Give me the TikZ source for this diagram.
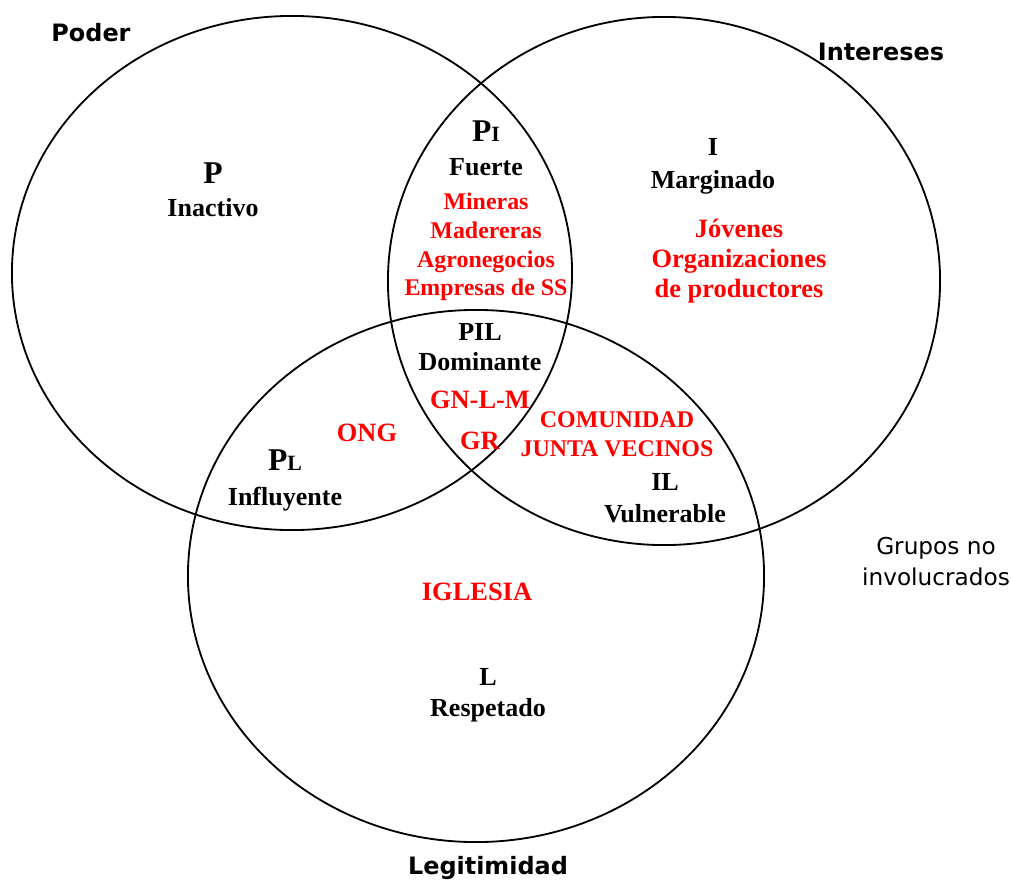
\documentclass[tikz,border=0pt]{standalone}
\usepackage{fontspec}
\setmainfont{Liberation Serif}
\newfontfamily\titlefont{DejaVu Sans}
\usetikzlibrary{shapes.geometric}

\begin{document}
\begin{tikzpicture}[
    x=0.025cm, y=-0.025cm,
    venn/.style={ellipse, draw, line width=1.3pt, inner sep=0pt},
    zone/.style={font=\fontsize{18.5}{22}\selectfont\bfseries, align=center, inner sep=0pt},
    big/.style={font=\fontsize{22.5}{24}\selectfont\bfseries, inner sep=0pt},
    actor/.style={font=\fontsize{17}{20.5}\selectfont\bfseries, text=red, align=center, inner sep=0pt},
    bigactor/.style={actor, font=\fontsize{18.8}{21.5}\selectfont\bfseries},
    title/.style={font=\titlefont\bfseries\fontsize{17}{20}\selectfont, inner sep=0pt},
    note/.style={font=\titlefont\fontsize{16.5}{22}\selectfont, align=center, inner sep=0pt}
]
\useasboundingbox (0,0) rectangle (1011,881);

\node[venn, minimum width=14cm, minimum height=12.85cm] (poder) at (292,273) {};
\node[venn, minimum width=13.8cm, minimum height=13.2cm] (intereses) at (664,281) {};
\node[venn, minimum width=14.4cm, minimum height=13.3cm] (legitimidad) at (476,576) {};

\node[title] (t-poder) at (91,33) {Poder};
\node[title] (t-intereses) at (881,52) {Intereses};
\node[title] (t-legitimidad) at (488,868) {Legitimidad};
\node[note] (t-grupos) at (936,562) {Grupos no\\involucrados};

% zonas
\node[big] (z-p) at (213,173) {P};
\node[zone] (z-p-name) at (213,208) {Inactivo};

\node[big] (z-pi) at (486,131) {P{\fontsize{15.5}{15}\selectfont I}};
\node[zone] (z-pi-name) at (486,167) {Fuerte};

\node[zone] (z-i) at (713,147) {I};
\node[zone] (z-i-name) at (713,182) {Marginado};

\node[zone] (z-pil) at (480,332) {PIL};
\node[zone] (z-pil-name) at (480,362) {Dominante};

\node[big] (z-pl) at (285,460) {P{\fontsize{15.5}{15}\selectfont L}};
\node[zone] (z-pl-name) at (285,499) {Influyente};

\node[zone] (z-il) at (665,482) {IL};
\node[zone] (z-il-name) at (665,514) {Vulnerable};

\node[zone] (z-l) at (488,677) {L};
\node[zone] (z-l-name) at (488,710) {Respetado};

% actores
\node[actor] (a-empresas) at (486,247) {Mineras\\Madereras\\Agronegocios\\Empresas de SS};
\node[bigactor] (a-jovenes) at (739,261) {Jóvenes\\Organizaciones\\de productores};
\node[bigactor] (a-gobierno) at (480,400) {GN-L-M};
\node[bigactor] (a-gr) at (480,441) {GR};
\node[bigactor] (a-ong) at (367,433) {ONG};
\node[actor] (a-comunidad) at (617,434) {COMUNIDAD\\JUNTA VECINOS};
\node[bigactor] (a-iglesia) at (477,592) {IGLESIA};

\end{tikzpicture}
\end{document}
